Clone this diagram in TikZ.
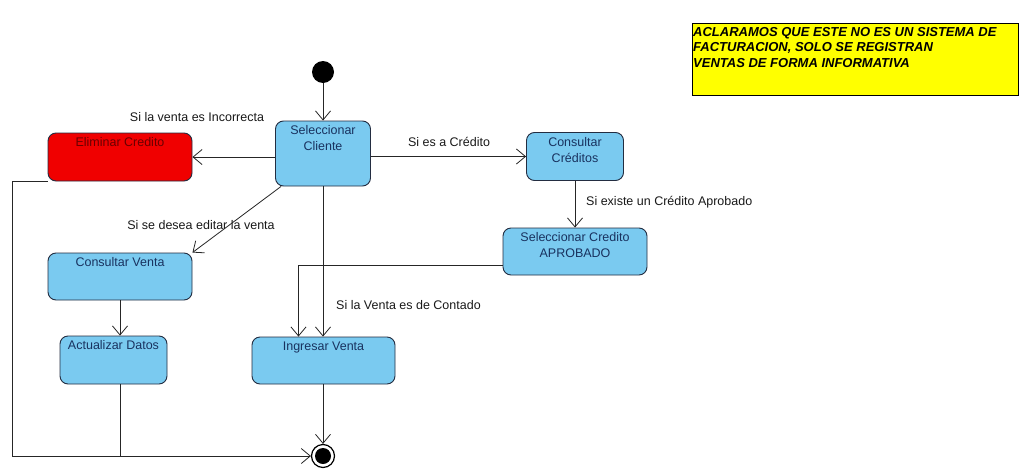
\documentclass[tikz,border=0pt]{standalone}
\usepackage{fontspec}
\setmainfont{Liberation Sans}
\usetikzlibrary{arrows.meta,calc}
\definecolor{actfill}{RGB}{122,202,240}
\definecolor{actline}{RGB}{35,45,65}
\definecolor{acttext}{RGB}{25,50,95}
\definecolor{delfill}{RGB}{240,0,0}
\definecolor{deltext}{RGB}{105,0,0}
\definecolor{notefill}{RGB}{255,255,0}
\begin{document}
\begin{tikzpicture}[x=1pt,y=-1pt,
	font=\fontsize{12.5}{16}\selectfont,
	act/.style={draw=actline,fill=actfill,rounded corners=8pt,line width=0.9pt,inner sep=0pt},
	acttxt/.style={anchor=north,align=center,text=acttext,yshift=-5pt,inner sep=0pt},
	lbl/.style={inner sep=0pt,text=black!90},
	line/.style={draw=black!85,line width=0.8pt},
	flow/.style={line,-{Straight Barb[length=9pt,width=15pt,line width=0.8pt]}}]
	\fill[white] (0,0) rectangle (1036,474);
	\useasboundingbox (0,0) rectangle (1036,474);
	% initial and final states
	\node[circle,fill=black,minimum size=22pt,inner sep=0pt] (start) at (323,72) {};
	\node[circle,draw=black,line width=1.2pt,fill=white,minimum size=23pt,inner sep=0pt] (final) at (323,456) {};
	\fill[black] (final.center) circle (8pt);
	% activities
	\node[act,minimum width=95pt,minimum height=65pt,label={[acttxt]north:{Seleccionar\\Cliente}}] (selCliente) at (323,153.5) {};
	\node[act,fill=delfill,minimum width=144pt,minimum height=48pt,label={[acttxt,text=deltext]north:Eliminar Credito}] (eliminar) at (120,157) {};
	\node[act,minimum width=97pt,minimum height=48pt,label={[acttxt]north:{Consultar\\Créditos}}] (consCred) at (575,156.5) {};
	\node[act,minimum width=144pt,minimum height=47pt,label={[acttxt]north:{Seleccionar Credito\\APROBADO}}] (selAprob) at (575,251.5) {};
	\node[act,minimum width=144pt,minimum height=47pt,label={[acttxt]north:Consultar Venta}] (consVenta) at (120,276.5) {};
	\node[act,minimum width=107pt,minimum height=48pt,label={[acttxt]north:Actualizar Datos}] (actDatos) at (113.5,360) {};
	\node[act,minimum width=143pt,minimum height=47pt,label={[acttxt]north:Ingresar Venta}] (ingresar) at (323.5,360.5) {};
	% note
	\node[draw=black,fill=notefill,minimum width=326pt,minimum height=72pt,inner sep=0pt] (note) at (855,59) {};
	\node[anchor=north west,align=left,inner sep=0pt,font=\bfseries\itshape\fontsize{13}{15.5}\selectfont] (noteText) at (693,27)
		{ACLARAMOS QUE ESTE NO ES UN SISTEMA DE\\FACTURACION, SOLO SE REGISTRAN\\VENTAS DE FORMA INFORMATIVA};
	% guard labels
	\node[lbl] (lblIncorrecta) at (197,117) {Si la venta es Incorrecta};
	\node[lbl] (lblCredito) at (449,142) {Si es a Crédito};
	\node[lbl,anchor=west] (lblAprobado) at (586,202) {Si existe un Crédito Aprobado};
	\node[lbl] (lblEditar) at (201,225) {Si se desea editar la venta};
	\node[lbl,anchor=west] (lblContado) at (336,305) {Si la Venta es de Contado};
	\coordinate (leftRail) at (12,456);
	% transitions
	\draw[flow] (start) -- (selCliente);
	\draw[flow] (selCliente.west |- eliminar.east) -- (eliminar.east);
	\draw[flow] (selCliente.east |- consCred.west) -- (consCred.west);
	\draw[flow] (consCred.south) -- (selAprob.north);
	\draw[flow] ($(selAprob.west)+(0,13.5)$) -| ([xshift=-25pt]ingresar.north);
	\draw[flow] (selCliente.south) -- (selCliente.south |- ingresar.north);
	\draw[flow] ([xshift=6pt]selCliente.south west) -- (consVenta.north east);
	\draw[flow] (consVenta.south) -- (consVenta.south |- actDatos.north);
	\draw[flow] (ingresar.south -| final) -- (final.north);
	\draw[flow] (eliminar.south west) -| (leftRail) -- (final.west);
	\draw[line] (consVenta.south |- actDatos.south) -- (consVenta.south |- leftRail);
\end{tikzpicture}
\end{document}
